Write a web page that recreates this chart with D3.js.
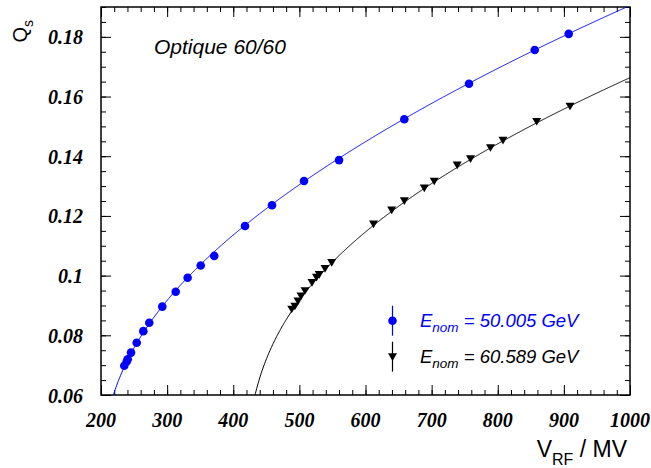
<!DOCTYPE html>
<html>
<head>
<meta charset="utf-8">
<script src="https://cdn.jsdelivr.net/npm/d3@7"></script>
<style>
  html, body { margin: 0; padding: 0; background: #fff; }
  svg { display: block; }
</style>
</head>
<body>
<div id="chart"></div>
<script>
// ---------- data ----------
// E_nom = 50.005 GeV (blue circles)
const blueV = [235.2, 238.9, 240.4, 245.4, 254.0, 264.0, 273.0, 292.7, 313.0, 331.0, 350.8, 371.3,
               417.8, 458.6, 507.0, 560.0, 658.7, 756.5, 855.9, 907.3];
const blueQ = [0.0698, 0.0712, 0.0720, 0.0742, 0.0775, 0.0814, 0.0842, 0.0896, 0.0946, 0.0993, 0.1034, 0.1066,
               0.1166, 0.1236, 0.1317, 0.1387, 0.1524, 0.1643, 0.1756, 0.1810];
// E_nom = 60.589 GeV (black down-triangles)
const blackV = [488.4, 493.2, 497.9, 502.5, 508.5, 519.1, 525.9, 530.0, 538.8, 548.9,
                612.1, 639.6, 658.7, 688.9, 703.9, 738.7, 758.8, 789.0, 807.9, 858.9, 909.3];
const blackQ = [0.0888, 0.0898, 0.0915, 0.0932, 0.0950, 0.0977, 0.0995, 0.1004, 0.1024, 0.1044,
                0.1173, 0.1220, 0.1251, 0.1294, 0.1317, 0.1371, 0.1392, 0.1429, 0.1454, 0.1517, 0.1568];
// fitted curves: Qs = A * (V^2 - U^2)^(1/4)   [A, U]
const blueFit = [0.006083, 195.9];
const blackFit = [0.005516, 416.5];

const xTickValues = [200, 300, 400, 500, 600, 700, 800, 900, 1000];
const xTickLabels = ["200", "300", "400", "500", "600", "700", "800", "900", "1000"];
const yTickValues = [0.06, 0.08, 0.10, 0.12, 0.14, 0.16, 0.18];
const yTickLabels = ["0.06", "0.08", "0.1", "0.12", "0.14", "0.16", "0.18"];
const legendLabels = ["= 50.005 GeV", "= 60.589 GeV"];
const legendColors = ["#0000ff", "#000000"];

// ---------- layout ----------
const W = 651, H = 468;
const L = 101, R = 630, T = 7, B = 395;

const svg = d3.select("#chart").append("svg").attr("width", W).attr("height", H);

const x = d3.scaleLinear().domain([200, 1000]).range([L, R]);
const y = d3.scaleLinear().domain([0.06, 0.19]).range([B, T]);

svg.append("defs").append("clipPath").attr("id", "clip")
  .append("rect").attr("x", L).attr("y", T).attr("width", R - L).attr("height", B - T);

// ---------- axes (ticks inward, ROOT style) ----------
const xMinor = d3.range(200, 1000.001, 20);
const yMinor = d3.range(0.06, 0.19001, 0.005);
const tickColor = "#000";

function axisGroup(axisFn, scale, tv, len, transform) {
  const g = svg.append("g").attr("transform", transform)
    .call(axisFn(scale).tickValues(tv).tickSize(len).tickFormat(""));
  g.select(".domain").remove();
  g.selectAll("line").attr("stroke", tickColor).attr("stroke-width", 1);
  return g;
}
// bottom: ticks upward
axisGroup(d3.axisTop, x, xMinor, 5, `translate(0,${B})`);
axisGroup(d3.axisTop, x, xTickValues, 10, `translate(0,${B})`);
// top: ticks downward
axisGroup(d3.axisBottom, x, xMinor, 5, `translate(0,${T})`);
axisGroup(d3.axisBottom, x, xTickValues, 10, `translate(0,${T})`);
// left: ticks rightward
axisGroup(d3.axisRight, y, yMinor, 5, `translate(${L},0)`);
axisGroup(d3.axisRight, y, yTickValues, 10, `translate(${L},0)`);
// right: ticks leftward
axisGroup(d3.axisLeft, y, yMinor, 5, `translate(${R},0)`);
axisGroup(d3.axisLeft, y, yTickValues, 10, `translate(${R},0)`);

// tick labels
const tickFont = "'Liberation Serif', 'Times New Roman', Times, serif";
svg.append("g").selectAll("text").data(xTickValues).join("text")
  .attr("x", d => x(d)).attr("y", 427)
  .attr("text-anchor", "middle")
  .style("font-family", tickFont).style("font-weight", "bold").style("font-style", "italic")
  .style("font-size", "20px")
  .text((d, i) => xTickLabels[i]);
svg.append("g").selectAll("text").data(yTickValues).join("text")
  .attr("x", 83).attr("y", d => y(d) + 7.5)
  .attr("text-anchor", "end")
  .style("font-family", tickFont).style("font-weight", "bold").style("font-style", "italic")
  .style("font-size", "20px")
  .text((d, i) => yTickLabels[i]);

// frame
svg.append("rect").attr("x", L).attr("y", T).attr("width", R - L).attr("height", B - T)
  .attr("fill", "none").attr("stroke", "#000").attr("stroke-width", 1.5);

// ---------- axis titles ----------
const sans = "'Liberation Sans', Arial, Helvetica, sans-serif";
const xt = svg.append("text").attr("x", 627).attr("y", 457).attr("text-anchor", "end")
  .style("font-family", sans).style("font-size", "23px");
xt.append("tspan").text("V");
xt.append("tspan").attr("dy", 8).style("font-size", "16px").text("RF");
xt.append("tspan").attr("dy", -8).text(" / MV");

const yt = svg.append("text").attr("transform", "translate(27,20) rotate(-90)")
  .attr("text-anchor", "end")
  .style("font-family", sans).style("font-size", "20px");
yt.append("tspan").text("Q");
yt.append("tspan").attr("dy", 6).style("font-size", "14px").text("s");

// annotation
svg.append("text").attr("x", 154).attr("y", 54)
  .style("font-family", sans).style("font-style", "italic").style("font-size", "21px")
  .text("Optique 60/60");

// ---------- fit curves ----------
const plot = svg.append("g").attr("clip-path", "url(#clip)");
function fitCurve(p) {
  const [A, U] = p;
  const vs = d3.range(Math.ceil(U) + 0.5, 1001, 1);
  return vs.map(v => [v, A * Math.pow(v * v - U * U, 0.25)]);
}
const line = d3.line().x(d => x(d[0])).y(d => y(d[1]));
plot.append("path").datum(fitCurve(blueFit)).attr("d", line)
  .attr("fill", "none").attr("stroke", "#0000ff").attr("stroke-width", 1);
plot.append("path").datum(fitCurve(blackFit)).attr("d", line)
  .attr("fill", "none").attr("stroke", "#000").attr("stroke-width", 1);

// ---------- markers ----------
const circleSym = d3.symbol().type(d3.symbolCircle).size(Math.PI * 4.3 * 4.3);
const triPath = (cx, cy, s) => `M${cx - s},${cy - s * 0.75}L${cx + s},${cy - s * 0.75}L${cx},${cy + s * 0.95}Z`;

plot.append("g").selectAll("path").data(blueV).join("path")
  .attr("transform", (d, i) => `translate(${x(d)},${y(blueQ[i])})`)
  .attr("d", circleSym).attr("fill", "#0000ff");
plot.append("g").selectAll("path").data(blackV).join("path")
  .attr("d", (d, i) => triPath(x(d), y(blackQ[i]), 4.5))
  .attr("fill", "#000");

// ---------- legend ----------
const lg = svg.append("g");
const lx = 392.5, ly = [320.7, 356.7], tx = 420, tyb = [326.5, 363];
legendColors.forEach((c, i) => {
  lg.append("line").attr("x1", lx).attr("x2", lx).attr("y1", ly[i] - 15).attr("y2", ly[i] + 15)
    .attr("stroke", c).attr("stroke-width", 1.2);
  if (i === 0) {
    lg.append("path").attr("transform", `translate(${lx},${ly[i]})`).attr("d", circleSym).attr("fill", c);
  } else {
    lg.append("path").attr("d", triPath(lx, ly[i], 4.5)).attr("fill", c);
  }
  const t = lg.append("text").attr("x", tx).attr("y", tyb[i])
    .style("font-family", sans).style("font-style", "italic").style("font-size", "18.5px")
    .attr("fill", c);
  t.append("tspan").text("E");
  t.append("tspan").attr("dy", 5).style("font-size", "13.5px").text("nom");
  t.append("tspan").attr("dy", -5).text(" " + legendLabels[i]);
});
</script>
</body>
</html>
